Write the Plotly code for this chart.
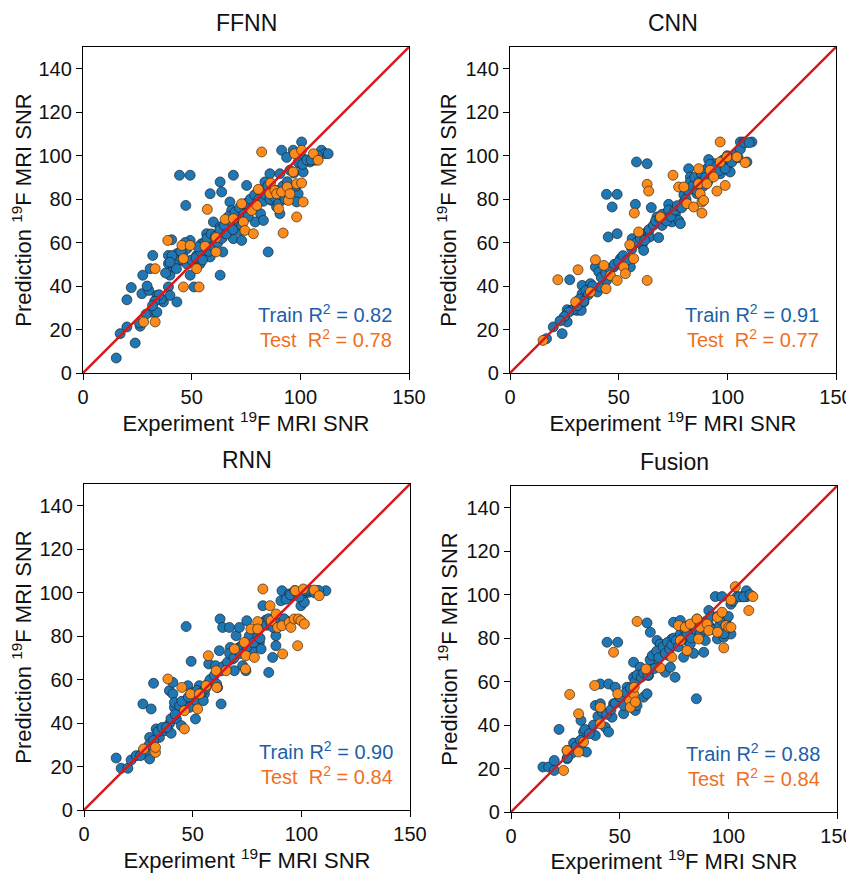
import plotly.graph_objects as go

titles = ["FFNN", "CNN", "RNN", "Fusion"]
train_r2 = ["0.82", "0.91", "0.90", "0.88"]
test_r2 = ["0.78", "0.77", "0.84", "0.84"]
axis_range = [0, 150]
x_ticks = [0, 50, 100, 150]
y_ticks = [0, 20, 40, 60, 80, 100, 120, 140]

ffnn_train = [
    (15.3, 6.9), (17.1, 18.1), (20.2, 21.2), (24, 13.8), (20.2, 33.7), (22.2, 39.3), (26.3, 21.5),
    (27.1, 36.5), (27.5, 45), (30.3, 38), (29.5, 40), (32.1, 54.1), (30.9, 48), (31.7, 28), (34, 28),
    (34, 35.7), (37, 32.7), (39.3, 39.6), (40, 35.7), (43.2, 32.7), (39.3, 50.3), (39.3, 54.1),
    (40.8, 61.3), (40, 45), (41.6, 48.8), (43.2, 54.9), (44.4, 91), (49.3, 91), (47.3, 77.1),
    (45.5, 51.8), (47.8, 57.2), (49.3, 61), (49.3, 45), (51.1, 39.6), (52.3, 54.1), (54.6, 59.5),
    (53.9, 50.3), (56.2, 54.9), (56.9, 64.1), (58.5, 53.4), (60, 69.5), (58.5, 82.5), (63.1, 87.9),
    (63.8, 83.3), (63.1, 45), (64.3, 55.7), (63.1, 67.2), (60.8, 61), (67.6, 78.7), (69.2, 91),
    (68.4, 74.8), (67.6, 65.6), (69.2, 61.8), (70.7, 69.5), (72.2, 65.6), (73, 61), (75.3, 86.3),
    (75.3, 74.8), (78.4, 79.4), (79.2, 69.5), (81.7, 73.3), (83, 70.2), (83.7, 87.9), (83, 82.5),
    (85.2, 55.7), (86, 91.7), (86.8, 79.4), (89.1, 76.4), (90.6, 81), (91.4, 102.5), (90.6, 91.7),
    (93.7, 99.2), (96.7, 102.5), (95.2, 93.3), (100.6, 106.3), (101.3, 98.6), (99.8, 96.3),
    (101.3, 92.5), (99, 82.5), (98.3, 78.7), (104.4, 97.1), (106.7, 97.9), (109.7, 102.5),
    (111.3, 100.9), (112.8, 100.9), (90.6, 73.3),
    (56, 60), (57, 62), (58, 56), (59, 64), (60, 58), (61, 63), (62, 60), (63, 66), (64, 62),
    (65, 68), (66, 64), (67, 72), (68, 70), (69, 66), (70, 74), (71, 70), (72, 76), (73, 68),
    (74, 73), (75, 78), (76, 72), (77, 80), (78, 76), (79, 82), (80, 78), (81, 80), (82, 84),
    (83, 79), (84, 82), (85, 86), (86, 80), (87, 84), (88, 81), (89, 84), (90, 78), (91, 82),
    (92, 86), (93, 80), (94, 88), (95, 84), (97, 92), (98, 86), (99, 97), (101, 96), (103, 98),
    (105, 98), (108, 100), (44, 52), (42, 50), (41, 54), (38, 46), (36, 34), (35, 36), (33, 33),
    (32, 31), (29, 27), (26, 23), (46, 54), (48, 50), (50, 52), (52, 53), (54, 56), (55, 52),
    (53, 58), (45, 56), (47, 60), (43, 48), (40, 51),
]
ffnn_test = [
    (27.9, 23.5), (33.2, 23.5), (33.2, 48), (39, 61), (45.5, 58.7), (46.2, 52.6), (46.2, 39.6),
    (49.3, 58.7), (52.3, 48), (53.4, 39.6), (56.2, 58.3), (57.2, 75.3), (61.2, 55.7), (61.2, 62.3),
    (65.4, 70.7), (69.2, 71), (73, 77.9), (73.8, 69.5), (74.5, 65.6), (78.4, 64.1), (77.6, 74.8),
    (80, 77.1), (80.7, 84.5), (82.2, 101.7), (86.3, 87.4), (86, 82.5), (88.3, 84), (89.1, 82.5),
    (90, 75.6), (91.4, 83.3), (92.1, 64.4), (94, 85.6), (94.5, 79.4), (95.2, 82.5), (96.7, 92.5),
    (98.3, 87.1), (98.3, 71.8), (97.4, 100.9), (100.6, 87.4), (101.3, 78.7), (100.6, 102.5),
    (106, 100.9), (108.2, 97.9),
]

cnn_train = [
    (16.8, 15.8), (19.9, 21.2), (24, 18.1), (26.3, 23.5), (26.3, 29.1), (27.5, 42.9), (28.6, 29.1),
    (30.9, 28.8), (32.8, 28.8), (33.2, 40.3), (33.2, 36.5), (34, 32.7), (37, 41.1), (39.3, 48.8),
    (40.2, 37.3), (40.9, 46.5), (41.6, 39.6), (44.4, 42.6), (44.4, 82.2), (49.3, 82.2), (47, 76.4),
    (45.2, 62.6), (49.3, 64.1), (47.8, 48.8), (50.8, 52.6), (52.3, 50.3), (55.4, 48.8), (56.2, 61.8),
    (57.7, 77.6), (58.2, 97.1), (63.1, 96.3), (60.8, 58.7), (61.5, 56.4), (62.3, 64.1), (63.8, 65.6),
    (65, 76.1), (64.3, 62.6), (67.6, 71.8), (68.4, 62.3), (70, 67.9), (71.5, 73.3), (73, 77.6),
    (74.5, 69.5), (76.1, 73.3), (77.6, 70.2), (78.4, 68.7), (80, 78.7), (82.2, 94), (83, 90.2),
    (83.7, 86.3), (86, 82.5), (90.6, 94), (91.4, 98.2), (94.4, 96.3), (97.5, 97.1), (100, 95.6),
    (101.3, 92.5), (102.9, 99.4), (106, 106.3), (107.5, 106.3), (111.3, 106.3), (109, 97.1),
    (96.8, 91.7), (92.9, 93.3),
    (35, 38), (36, 36), (38, 40), (42, 44), (44, 46), (46, 48), (48, 50), (50, 51), (52, 54),
    (54, 52), (56, 57), (58, 60), (60, 62), (62, 61), (64, 66), (66, 68), (67, 70), (69, 71),
    (70, 73), (72, 70), (73, 75), (74, 72), (76, 75), (77, 77), (79, 76), (80, 82), (81, 80),
    (82, 84), (83, 88), (84, 86), (85, 90), (86, 84), (87, 88), (88, 92), (89, 86), (90, 90),
    (91, 88), (92, 96), (93, 92), (95, 95), (96, 93), (98, 98), (99, 94), (100, 100), (102, 97),
    (104, 101), (105, 99), (106, 103), (108, 106), (110, 106), (29, 29), (31, 31), (32, 34),
    (34, 33), (27, 28), (25, 26), (23, 24),
]
cnn_test = [
    (15.2, 15), (22, 42.9), (30.2, 32.7), (31.3, 47.5), (37, 37.3), (39.3, 52.1), (43.2, 49.5),
    (46.2, 44.9), (44.2, 38.8), (49.3, 42.6), (52.3, 48.8), (53.1, 45.7), (55.1, 59), (56.9, 52.6),
    (57.2, 73.6), (59.2, 64.9), (63.1, 42.6), (63.1, 86.8), (63.8, 83.7), (69.2, 71.8), (75, 91),
    (77.6, 85.6), (80, 85.6), (81.4, 77.9), (84.5, 76.4), (86.8, 94), (86.8, 87.1), (87.5, 82.5),
    (88.3, 78.7), (88.3, 73.6), (89.1, 79.4), (90.6, 87.1), (92.1, 93.3), (93.7, 90.2), (95.2, 83.7),
    (96.7, 106.3), (96.7, 97.1), (99, 86.3), (99.8, 99.4), (104.4, 99.4), (108.2, 96.8),
]

rnn_train = [
    (14.8, 23.9), (17.1, 19.2), (20.2, 19.2), (21.7, 23), (24, 25), (27.1, 26.5), (27.1, 48.8),
    (30.9, 46.5), (32, 58.3), (30.2, 23.5), (30.2, 33.4), (33.2, 37.3), (34.7, 33.4), (37, 36.5),
    (39.3, 39.6), (40.1, 35.3), (39.3, 54.9), (40.9, 53.4), (40.9, 58.7), (41.6, 47.2), (42.5, 41.9),
    (41.6, 49.5), (44.8, 38.8), (47, 84.4), (47, 50.3), (47.8, 57.2), (49.3, 68.4), (48.5, 47.2),
    (51.3, 41.9), (51.6, 50.3), (53.1, 57.2), (55.4, 53.4), (54.9, 50.3), (56.9, 58), (57.4, 67.2),
    (59.2, 59.5), (60.5, 66.4), (62.3, 73.3), (61.5, 56.4), (62.6, 87.9), (63.1, 48.8), (63.8, 84),
    (66.9, 84), (67.3, 74.8), (68.4, 69.5), (69.2, 64.1), (70, 80.2), (71.5, 84), (71.5, 74.8),
    (73, 66.4), (74.5, 64.1), (74.9, 87.1), (76.8, 78.7), (77.6, 73.3), (80.7, 77.1), (81.5, 74.1),
    (82.3, 94), (83.7, 87.4), (85, 63.3), (86.8, 70.2), (87.6, 87.4), (88.3, 80.2), (88.3, 75.6),
    (90.6, 96.3), (91.1, 100.9), (93, 87.1), (94.4, 99.4), (96, 98.6), (99.8, 94), (100.6, 100.9),
    (101.4, 99.4), (101.4, 95.6), (103.6, 100.2), (107.5, 100.9), (111.3, 100.9),
    (34, 36), (36, 38), (38, 38), (40, 42), (42, 44), (44, 48), (45, 50), (48, 52), (50, 54),
    (52, 55), (54, 54), (56, 56), (58, 60), (60, 62), (61, 58), (63, 64), (64, 66), (66, 68),
    (67, 72), (69, 70), (70, 74), (72, 72), (73, 76), (75, 75), (76, 80), (78, 77), (80, 80),
    (81, 79), (82, 86), (84, 85), (85, 88), (86, 86), (87, 84), (88, 88), (89, 86), (90, 87),
    (92, 88), (93, 97), (95, 99), (97, 101), (98, 100), (99, 98), (102, 101), (104, 101),
    (106, 100), (108, 101), (28, 27), (26, 25), (30, 30), (32, 32),
]
rnn_test = [
    (27.4, 28.1), (32.9, 26.5), (32.9, 28.8), (38.6, 60.3), (45, 56.4), (46.2, 45.7), (46.2, 37.3),
    (49, 53.4), (52.3, 46.5), (53.1, 53.4), (56.2, 57.2), (57.2, 71), (60.8, 64.1), (61.1, 56.4),
    (65.4, 64.1), (69.2, 74.1), (73.8, 77.1), (74.3, 64.9), (74.5, 71), (76.8, 83.3), (78.4, 70.2),
    (79.9, 86.7), (79.9, 83.3), (82.3, 101.7), (85.6, 94), (86.1, 87.1), (88.4, 90.2), (89.1, 84),
    (91.1, 84.8), (91.4, 71.8), (94.4, 86.3), (95.2, 84), (96.7, 87.9), (97.2, 100.9), (98.3, 75.6),
    (98.7, 87.9), (99.8, 87.1), (101.4, 85.6), (100.9, 101.7), (105.9, 101.2), (108.2, 98.6),
]

fusion_train = [
    (14.7, 20.7), (17.3, 20.7), (19.9, 19.1), (19.9, 23.7), (22.1, 38), (25.8, 24.5), (25.8, 28.3),
    (28.8, 31.7), (29.6, 28.6), (32.7, 28.3), (34.7, 27.6), (32.2, 42.1), (33.4, 36.8), (36.5, 37.8),
    (38.8, 35.2), (38.8, 49), (41.1, 58.9), (41.1, 49.8), (43.4, 39), (44.9, 58.9), (44.9, 36.8),
    (44.2, 78.1), (49.1, 78.1), (46.5, 43.6), (48, 57.4), (47.2, 49.8), (50.3, 51.3), (51.8, 45.2),
    (53.4, 57.4), (54.1, 52.8), (56.4, 62), (56.4, 68.9), (57.2, 46.7), (58, 49), (59.5, 66.6),
    (61, 52.8), (62.6, 54.4), (62.6, 87), (64.1, 82.7), (63.3, 62.8), (64.9, 69.7), (67.2, 68.1),
    (67.2, 78.9), (68.7, 77.3), (69.5, 72.8), (71, 64.3), (72.5, 72), (73.3, 66.6), (74, 79.6),
    (74.8, 87.3), (75.5, 62), (77.9, 88.1), (79.4, 71.2), (81, 78.9), (82.5, 77.3), (83.3, 85),
    (84, 73), (85.3, 52.1), (85.6, 88.8), (88.7, 73.5), (89.4, 78.9), (91, 92.7), (91.7, 84.3),
    (94, 99.1), (95, 79.6), (97.1, 99.1), (97.9, 80.4), (98.9, 88.1), (101.2, 95.6), (101.2, 81.9),
    (104, 99.1), (106.3, 99.1), (108.3, 101.8), (108.6, 99.1),
    (34, 38), (36, 36), (38, 40), (40, 44), (42, 46), (44, 45), (46, 47), (48, 50), (50, 53),
    (52, 49), (53, 55), (55, 57), (57, 60), (58, 63), (60, 62), (61, 64), (63, 63), (64, 70),
    (65, 72), (66, 66), (67, 74), (68, 71), (70, 76), (71, 73), (72, 78), (73, 75), (74, 77),
    (75, 80), (76, 79), (77, 76), (78, 82), (79, 80), (80, 84), (81, 82), (82, 86), (83, 80),
    (84, 86), (85, 84), (86, 88), (87, 82), (88, 86), (89, 84), (90, 88), (91, 86), (92, 90),
    (93, 84), (95, 90), (96, 86), (97, 88), (99, 86), (100, 90), (98, 82), (102, 97), (105, 99),
    (107, 99), (110, 100), (28, 27), (30, 30), (32, 33), (26, 25),
]
fusion_test = [
    (24.2, 19.1), (25.8, 28.3), (27, 54.1), (31.1, 45.2), (31.1, 27.6), (33.4, 32.2), (38.5, 58.2),
    (41.1, 48.2), (41.1, 40.6), (47.2, 73.5), (49.1, 54.4), (54.6, 51.3), (54.9, 48.2), (56.4, 54.4),
    (57.2, 50.6), (56.7, 57.4), (58, 87.7), (62.1, 65.8), (68.7, 66.3), (74, 71.2), (77.1, 85.8),
    (77.9, 78.9), (80.2, 85), (81, 74.3), (82.5, 86.5), (85.6, 88.8), (86.3, 79.6), (87.1, 85),
    (90.2, 86.5), (91, 83.5), (95, 82.7), (95, 89.6), (97.1, 91.9), (97.9, 75.5), (98.9, 85.8),
    (100.2, 85), (101.2, 85), (101.2, 97.5), (103.2, 103.7), (109.4, 92.7), (111.3, 99.1),
]

panels = [
    (ffnn_train, ffnn_test),
    (cnn_train, cnn_test),
    (rnn_train, rnn_test),
    (fusion_train, fusion_test),
]

# the page body has an 8 px margin, so the figure is drawn from (8, 8)
OFF = 8
W, H = 854 - OFF, 874 - OFF
# plot-area pixel boxes in page pixels (left, top, right, bottom)
boxes = [(83, 47, 409, 373), (510, 47, 836, 373), (84, 484, 410, 810), (511, 486, 837, 812)]

BLUE = "#1f77b4"
ORANGE = "#fd8b1c"
FONT = "Arial, Liberation Sans, sans-serif"
INK = "#111111"

fig = go.Figure()
layout = dict(
    template="none",
    width=W, height=H, margin=dict(l=0, r=0, t=0, b=0, autoexpand=False),
    paper_bgcolor="white", plot_bgcolor="white", showlegend=False,
    font=dict(family=FONT, size=20, color=INK),
)
annotations = []
for i, ((train, test), box) in enumerate(zip(panels, boxes)):
    l, t, r, b = (v - OFF for v in box)
    sfx = "" if i == 0 else str(i + 1)
    xa, ya = "x" + sfx, "y" + sfx
    fig.add_trace(go.Scatter(
        x=[p[0] for p in train], y=[p[1] for p in train], mode="markers", xaxis=xa, yaxis=ya,
        marker=dict(size=10, color=BLUE, line=dict(width=0.7, color="#1b2733")), name="Train"))
    fig.add_trace(go.Scatter(
        x=[p[0] for p in test], y=[p[1] for p in test], mode="markers", xaxis=xa, yaxis=ya,
        marker=dict(size=10, color=ORANGE, line=dict(width=0.7, color="#3a2a14")), name="Test"))
    fig.add_trace(go.Scatter(
        x=axis_range, y=axis_range, mode="lines", xaxis=xa, yaxis=ya,
        line=dict(color="#d7191c", width=2.5), hoverinfo="skip"))
    common = dict(showline=True, linecolor="black", linewidth=1.3, mirror=True, ticks="outside",
                  ticklen=6, tickwidth=1.3, tickcolor="black", showgrid=False, zeroline=False,
                  automargin=False, tickfont=dict(family=FONT, size=20, color=INK), range=axis_range)
    layout["xaxis" + sfx] = dict(common, domain=[l / W, r / W], anchor=ya, tickvals=x_ticks,
                                 title=dict(text="Experiment <sup>19</sup>F MRI SNR",
                                            font=dict(family=FONT, size=22, color=INK), standoff=4))
    layout["yaxis" + sfx] = dict(common, domain=[1 - b / H, 1 - t / H], anchor=xa, tickvals=y_ticks,
                                 title=dict(text="Prediction <sup>19</sup>F MRI SNR",
                                            font=dict(family=FONT, size=22, color=INK), standoff=2))
    annotations.append(dict(text=titles[i], xref=xa + " domain", yref=ya + " domain", x=0.5,
                            y=1 + 24 / 326, xanchor="center", yanchor="middle", showarrow=False,
                            font=dict(family=FONT, size=23, color=INK)))
    annotations.append(dict(text="Train R<sup>2</sup> = " + train_r2[i], xref=xa + " domain",
                            yref=ya + " domain", x=0.955, y=0.184, xanchor="right", yanchor="middle",
                            showarrow=False, font=dict(family=FONT, size=20, color="#1c5fa8")))
    annotations.append(dict(text="Test&nbsp; R<sup>2</sup> = " + test_r2[i], xref=xa + " domain",
                            yref=ya + " domain", x=0.955, y=0.107, xanchor="right", yanchor="middle",
                            showarrow=False, font=dict(family=FONT, size=20, color="#ef6f1f")))
layout["annotations"] = annotations
fig.update_layout(**layout)
fig.write_html("out.html")
